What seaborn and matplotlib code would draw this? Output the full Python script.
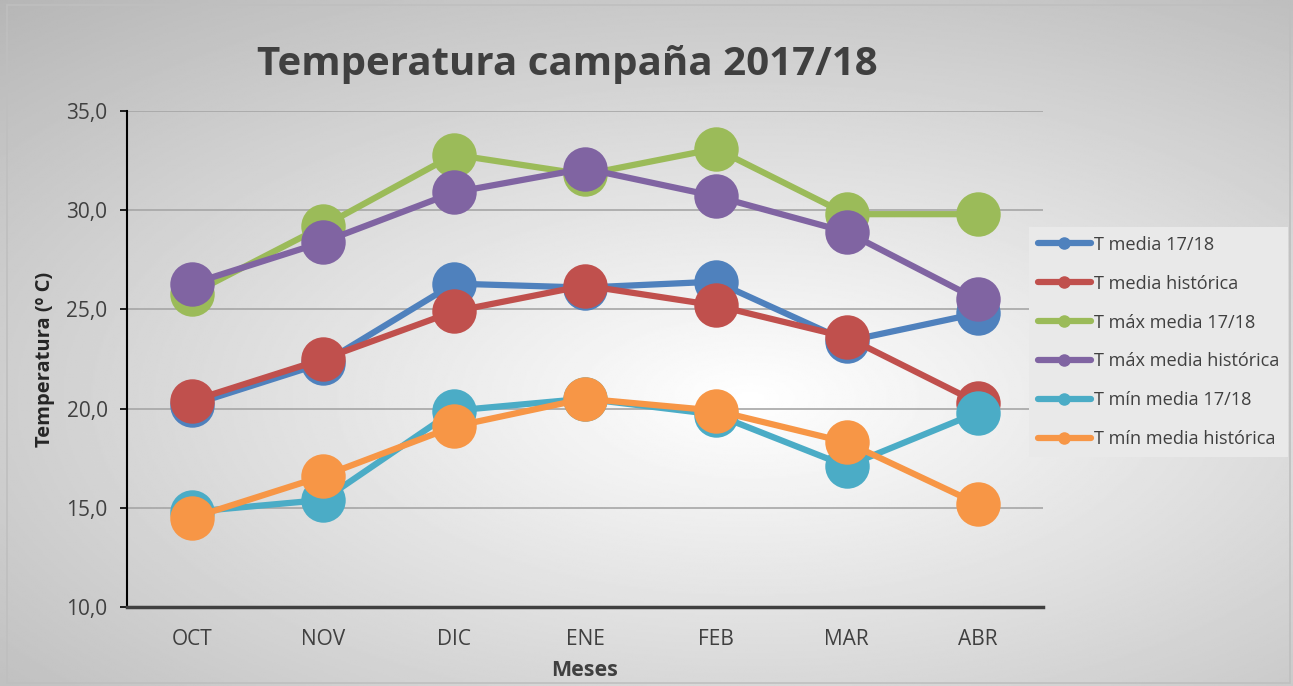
import numpy as np
import pandas as pd
import seaborn as sns
from matplotlib import pyplot as plt
from matplotlib.lines import Line2D
from matplotlib.patches import Rectangle
from matplotlib.ticker import FuncFormatter, MultipleLocator

# datos
meses = ["OCT", "NOV", "DIC", "ENE", "FEB", "MAR", "ABR"]
t_media_1718 = [20.2, 22.3, 26.3, 26.1, 26.4, 23.4, 24.8]
t_media_hist = [20.4, 22.5, 24.9, 26.2, 25.2, 23.6, 20.3]
t_max_1718 = [25.8, 29.2, 32.8, 31.8, 33.1, 29.8, 29.8]
t_max_hist = [26.3, 28.4, 30.9, 32.1, 30.7, 28.9, 25.5]
t_min_1718 = [14.8, 15.4, 19.9, 20.5, 19.7, 17.1, 19.8]
t_min_hist = [14.5, 16.6, 19.1, 20.5, 19.9, 18.3, 15.2]

series = ["T media 17/18", "T media histórica", "T máx media 17/18",
          "T máx media histórica", "T mín media 17/18", "T mín media histórica"]
valores = [t_media_1718, t_media_hist, t_max_1718, t_max_hist, t_min_1718, t_min_hist]
colores = ["#4f81bd", "#c0504d", "#9bbb59", "#8064a2", "#4bacc6", "#f79646"]

df = pd.DataFrame({
    "Meses": meses * len(series),
    "Temperatura": sum(valores, []),
    "serie": [s for s in series for _ in meses],
})

sns.set_style("white")
plt.rcParams['font.family'] = ['Open Sans', 'DejaVu Sans']

fig = plt.figure(figsize=(12.93, 6.86), dpi=100)

# fondo con degradado radial
bg = fig.add_axes([0, 0, 1, 1], zorder=-10)
yy, xx = np.mgrid[0:1:400j, 0:1:700j]
r = np.sqrt(((xx - 0.58) / 1.0) ** 2 + ((yy - 0.42) / 0.9) ** 2)
grad = np.clip(1 - 0.33 * r, 0, 1)
bg.imshow(grad, cmap="gray", vmin=0, vmax=1, extent=[0, 1, 0, 1], aspect="auto", origin="lower")
bg.set_xlim(0, 1)
bg.set_ylim(0, 1)
bg.axis("off")
fig.patches.append(Rectangle((7 / 1293, 3 / 686), 1283 / 1293, 678 / 686, transform=fig.transFigure,
                             fill=False, edgecolor="#bfbfbf", linewidth=1.2))

ax = fig.add_axes([127 / 1293, 1 - 607 / 686, (1043 - 127) / 1293, (607 - 111) / 686])
ax.set_facecolor("none")

# una llamada por serie para respetar el orden de dibujo
for s, c in zip(series, colores):
    sns.lineplot(data=df[df["serie"] == s], x="Meses", y="Temperatura", ax=ax, color=c,
                 linewidth=4.5, marker="o", markersize=32, markeredgewidth=0, legend=False, sort=False)

ax.set_xlim(-0.5, 6.5)
ax.set_ylim(10, 35)
ax.yaxis.set_major_locator(MultipleLocator(5))
ax.yaxis.set_major_formatter(FuncFormatter(lambda v, p: f"{v:.1f}".replace(".", ",")))
ax.set_xticks(range(len(meses)))
ax.set_xticklabels(meses)
ax.set_xticks(np.arange(-0.5, 7, 1), minor=True)
ax.tick_params(axis="x", which="major", length=0, pad=16, labelsize=15, labelcolor="#404040")
ax.tick_params(axis="x", which="minor", length=6, width=2.5, color="#404040", direction="out")
ax.tick_params(axis="y", length=5, width=1.2, color="black", labelsize=15, labelcolor="#404040", pad=9, left=True)

ax.grid(axis="y", color="#a6a6a6", linewidth=1.2)
ax.get_ygridlines()[-1].set_color("#d9d9d9")
ax.set_axisbelow(True)
for side in ["top", "right"]:
    ax.spines[side].set_visible(False)
ax.spines["left"].set_color("black")
ax.spines["left"].set_linewidth(1.5)
ax.spines["bottom"].set_color("#404040")
ax.spines["bottom"].set_linewidth(2.5)

ax.set_xlabel("Meses", fontsize=15.5, fontweight="bold", color="#404040", labelpad=7)
ax.set_ylabel("Temperatura (º C)", fontsize=14.5, fontweight="bold", color="#262626", labelpad=8)

fig.text(567 / 1293, 1 - 65 / 686, "Temperatura campaña 2017/18", ha="center", va="center",
         fontsize=29, fontweight="bold", color="#404040")

handles = [Line2D([0], [0], color=c, linewidth=4.5, marker="o", markersize=8) for c in colores]
leg = fig.legend(handles, series, loc="center left", bbox_to_anchor=(1029 / 1293, 1 - 342 / 686),
                 fontsize=13.1, frameon=True, facecolor="#e9e9e9", edgecolor="none", framealpha=1,
                 fancybox=False, handlelength=2.9, handletextpad=0.15, labelspacing=1.15,
                 borderpad=0.5, borderaxespad=0)
for t in leg.get_texts():
    t.set_color("#404040")

fig.savefig("out.png", dpi=100)
